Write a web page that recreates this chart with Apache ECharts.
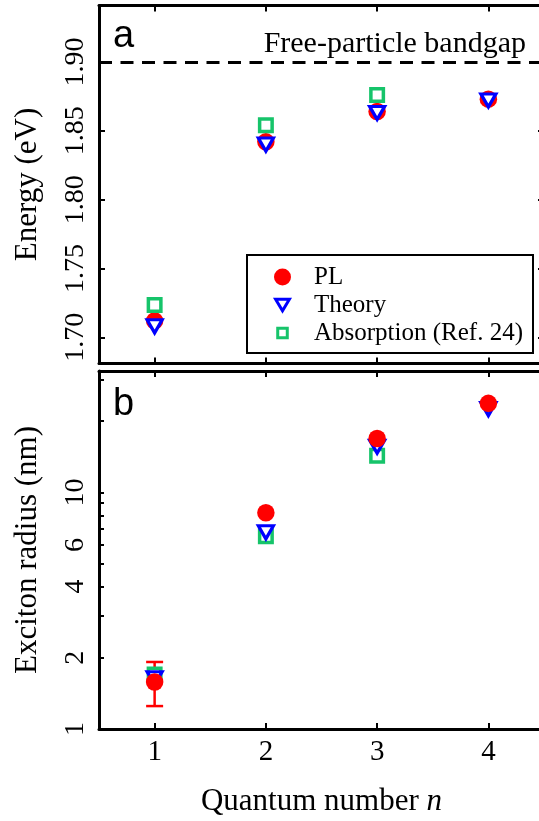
<!DOCTYPE html>
<html>
<head>
<meta charset="utf-8">
<script src="https://cdn.jsdelivr.net/npm/echarts@6/dist/echarts.min.js"></script>
<style>
html,body{margin:0;padding:0;background:#fff;}
#chart{width:539px;height:821px;}
</style>
</head>
<body>
<div id="chart"></div>
<script>
// ---- data ----
const quantumN = [1, 2, 3, 4];
const energyPL = [1.712, 1.842, 1.864, 1.873];
const energyTheory = [1.708, 1.840, 1.863, 1.872];
const energyAbs = [1.7235, 1.854, 1.876];
const bandgap = 1.897;
const radiusPL = [1.58, 8.2, 16.9, 23.8];
const radiusTheory = [1.64, 6.78, 15.6, 22.5];
const radiusAbs = [1.70, 6.53, 14.3];
const radiusPLErrN = [1];
const radiusPLErrLow = [1.25];
const radiusPLErrHigh = [1.92];
const energyTicks = [1.70, 1.75, 1.80, 1.85, 1.90];
const radiusLabelTicks = [1, 2, 4, 6, 10];
const radiusTicks = [1, 2, 3, 4, 5, 6, 7, 8, 9, 10, 20, 30];
const xTicks = [1, 2, 3, 4];

const pairs = (xs, ys) => ys.map((y, i) => [xs[i], y]);

const RED = '#ff0000', BLUE = '#0000ff', GREEN = '#16c46a';
const SERIF = "'Liberation Serif', 'Times New Roman', serif";
const triPath = 'path://M0,0L20,0L10,17Z';

const chart = echarts.init(document.getElementById('chart'));

function xAx(grid, pos, showLabel, name) {
  const a = {
    type: 'value', gridIndex: grid, position: pos, min: 0.5, max: 4.5,
    axisLine: {show: true, onZero: false, lineStyle: {color: '#000', width: 3}},
    axisTick: {show: true, inside: true, length: 6, customValues: xTicks, lineStyle: {color: '#000', width: 2}},
    axisLabel: {show: showLabel, customValues: xTicks, fontFamily: SERIF, fontSize: 29, color: '#000', margin: 9},
    splitLine: {show: false}
  };
  if (name) {
    a.name = name; a.nameLocation = 'middle'; a.nameGap = 57;
    a.nameTextStyle = {fontFamily: SERIF, fontSize: 31, color: '#000', rich: {i: {fontFamily: SERIF, fontSize: 31, fontStyle: 'italic', color: '#000'}}};
  }
  return a;
}

const yA = {
  type: 'value', gridIndex: 0, position: 'left', min: 1.681, max: 1.941,
  name: 'Energy (eV)', nameLocation: 'middle', nameGap: 56,
  nameTextStyle: {fontFamily: SERIF, fontSize: 31, color: '#000'},
  axisLine: {show: true, onZero: false, lineStyle: {color: '#000', width: 3}},
  axisTick: {show: true, inside: true, length: 6, customValues: energyTicks, lineStyle: {color: '#000', width: 2}},
  axisLabel: {show: true, customValues: energyTicks, rotate: 90, fontFamily: SERIF, fontSize: 28, color: '#000', margin: 9,
    formatter: v => Number(v).toFixed(2)},
  splitLine: {show: false}
};
const yAR = {
  type: 'value', gridIndex: 0, position: 'right', min: 1.681, max: 1.941,
  axisLine: {show: true, onZero: false, lineStyle: {color: '#000', width: 3}},
  axisTick: {show: true, inside: true, length: 6, customValues: energyTicks, lineStyle: {color: '#000', width: 2}},
  axisLabel: {show: false}, splitLine: {show: false}
};
const yB = {
  type: 'log', logBase: 10, gridIndex: 1, position: 'left', min: 1, max: 32.6,
  name: 'Exciton radius (nm)', nameLocation: 'middle', nameGap: 56,
  nameTextStyle: {fontFamily: SERIF, fontSize: 31, color: '#000'},
  axisLine: {show: true, onZero: false, lineStyle: {color: '#000', width: 3}},
  axisTick: {show: true, inside: true, length: 5, customValues: radiusTicks, lineStyle: {color: '#000', width: 2}},
  minorTick: {show: false},
  axisLabel: {show: true, customValues: radiusLabelTicks, rotate: 90, fontFamily: SERIF, fontSize: 28, color: '#000', margin: 9},
  splitLine: {show: false}
};
const yBR = {
  type: 'log', logBase: 10, gridIndex: 1, position: 'right', min: 1, max: 32.6,
  axisLine: {show: true, onZero: false, lineStyle: {color: '#000', width: 3}},
  axisTick: {show: true, inside: true, length: 5, customValues: radiusTicks, lineStyle: {color: '#000', width: 2}},
  axisLabel: {show: false}, splitLine: {show: false}
};

const plStyle = {color: RED, opacity: 1};
const thStyle = {color: '#fff', borderColor: BLUE, borderWidth: 3.2, opacity: 1};
const abStyle = {color: '#fff', borderColor: GREEN, borderWidth: 3.5, opacity: 1};

const option = {
  animation: false,
  backgroundColor: '#fff',
  grid: [
    {left: 99, right: -5, top: 5.5, height: 358, outerBoundsMode: 'none', containLabel: false},
    {left: 99, right: -5, top: 371, height: 358, outerBoundsMode: 'none', containLabel: false}
  ],
  xAxis: [
    xAx(0, 'bottom', false),
    xAx(0, 'top', false),
    xAx(1, 'bottom', true, 'Quantum number {i|n}'),
    xAx(1, 'top', false)
  ],
  yAxis: [yA, yAR, yB, yBR],
  legend: {
    show: true, orient: 'vertical', left: 247, top: 255,
    padding: [9.5, 10, 7.5, 25.5],
    borderColor: '#000', borderWidth: 2, backgroundColor: '#fff',
    itemWidth: 53, itemHeight: 17, itemGap: 3,
    textStyle: {fontFamily: SERIF, fontSize: 25, color: '#000'},
    data: [
      {name: 'PL', icon: 'circle', itemStyle: {color: RED, borderWidth: 0, opacity: 1}},
      {name: 'Theory', icon: 'path://M0,0M16,16M1.5,2.5L14.5,2.5L8,13.5Z', itemStyle: {color: '#fff', borderColor: BLUE, borderWidth: 3, opacity: 1}},
      {name: 'Absorption (Ref. 24)', icon: 'path://M0,0M16,16M3.5,3.5L12.5,3.5L12.5,12.5L3.5,12.5Z', itemStyle: {color: '#fff', borderColor: GREEN, borderWidth: 3, opacity: 1}}
    ]
  },
  graphic: [
    {type: 'text', left: 113, top: 18, style: {text: 'a', font: '38px "Liberation Sans"', fill: '#000'}, z: 100},
    {type: 'text', left: 113, top: 386, style: {text: 'b', font: '38px "Liberation Sans"', fill: '#000'}, z: 100},
    {type: 'text', right: 13, top: 29, style: {text: 'Free-particle bandgap', font: '30px "Liberation Serif"', fill: '#000'}, z: 100}
  ],
  series: [
    {
      name: 'PL', type: 'scatter', xAxisIndex: 0, yAxisIndex: 0,
      symbol: 'circle', symbolSize: 17.5, itemStyle: plStyle,
      data: pairs(quantumN, energyPL),
      markLine: {
        silent: true, symbol: 'none', label: {show: false},
        lineStyle: {color: '#000', width: 3, type: [13, 8.5]},
        data: [{yAxis: bandgap}]
      }
    },
    {
      name: 'Theory', type: 'scatter', xAxisIndex: 0, yAxisIndex: 0,
      symbol: triPath, symbolSize: [15, 13], itemStyle: thStyle,
      data: pairs(quantumN, energyTheory)
    },
    {
      name: 'Absorption (Ref. 24)', type: 'scatter', xAxisIndex: 0, yAxisIndex: 0,
      symbol: 'rect', symbolSize: 12.5, itemStyle: abStyle,
      data: pairs(quantumN, energyAbs)
    },
    {
      name: 'Absorption (Ref. 24)', type: 'scatter', xAxisIndex: 2, yAxisIndex: 2,
      symbol: 'rect', symbolSize: 12.5, itemStyle: abStyle,
      data: pairs(quantumN, radiusAbs)
    },
    {
      name: 'Theory', type: 'scatter', xAxisIndex: 2, yAxisIndex: 2,
      symbol: triPath, symbolSize: [15, 13], itemStyle: thStyle,
      data: pairs(quantumN, radiusTheory)
    },
    {
      name: 'PL error', type: 'custom', xAxisIndex: 2, yAxisIndex: 2,
      data: radiusPLErrN.map((n, i) => [n, radiusPLErrLow[i], radiusPLErrHigh[i]]),
      encode: {x: 0, y: [1, 2]},
      renderItem: function (params, api) {
        const x = api.value(0);
        const lo = api.coord([x, api.value(1)]);
        const hi = api.coord([x, api.value(2)]);
        const hw = 8.5;
        const st = {stroke: RED, lineWidth: 2.5};
        return {
          type: 'group',
          children: [
            {type: 'line', shape: {x1: lo[0], y1: lo[1], x2: hi[0], y2: hi[1]}, style: st},
            {type: 'line', shape: {x1: lo[0] - hw, y1: lo[1], x2: lo[0] + hw, y2: lo[1]}, style: st},
            {type: 'line', shape: {x1: hi[0] - hw, y1: hi[1], x2: hi[0] + hw, y2: hi[1]}, style: st}
          ]
        };
      }
    },
    {
      name: 'PL', type: 'scatter', xAxisIndex: 2, yAxisIndex: 2,
      symbol: 'circle', symbolSize: 17.5, itemStyle: plStyle,
      data: pairs(quantumN, radiusPL)
    }
  ]
};
chart.setOption(option);
</script>
</body>
</html>
